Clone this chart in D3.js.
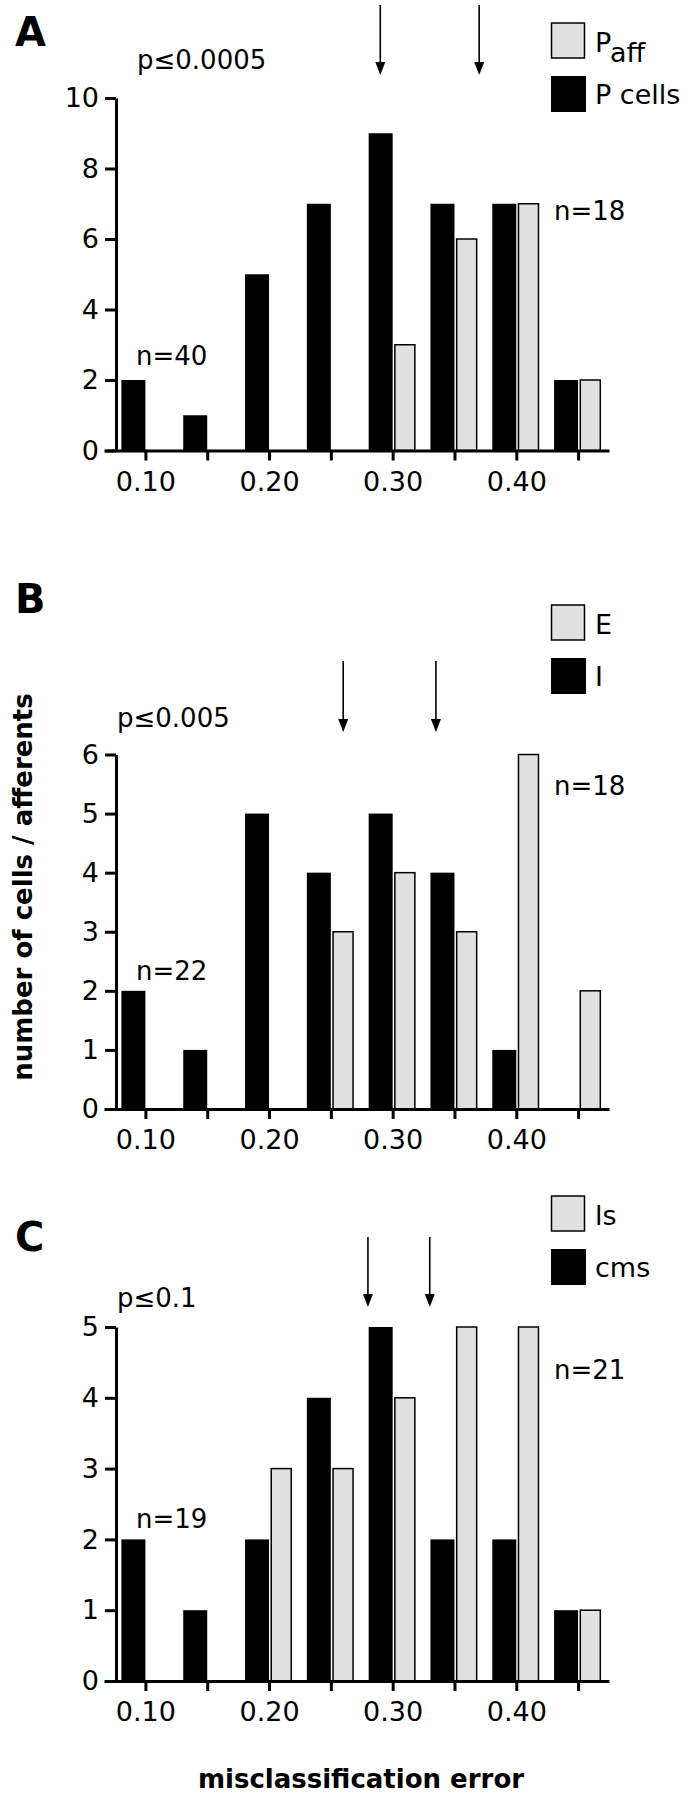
<!DOCTYPE html>
<html>
<head>
<meta charset="utf-8">
<script src="https://cdn.jsdelivr.net/npm/d3@7"></script>
<style>
body { margin: 0; background: #fff; }
svg text { font-family: "DejaVu Sans", sans-serif; fill: #000; }
</style>
</head>
<body>
<svg width="688" height="1800"></svg>
<script>
// histogram bins (misclassification error) and their labels
var bins = [0.10, 0.15, 0.20, 0.25, 0.30, 0.35, 0.40, 0.45];
var binLabels = ["0.10", "", "0.20", "", "0.30", "", "0.40", ""];

// panel A
var pCells = [2, 1, 5, 7, 9, 7, 7, 2];
var pAff   = [0, 0, 0, 0, 3, 6, 7, 2];
var arrowsA = [0.29, 0.37];
var yTicksA = [0, 2, 4, 6, 8, 10];

// panel B
var iCells = [2, 1, 5, 4, 5, 4, 1, 0];
var eCells = [0, 0, 0, 3, 4, 3, 6, 2];
var arrowsB = [0.26, 0.335];
var yTicksB = [0, 1, 2, 3, 4, 5, 6];

// panel C
var cmsCells = [2, 1, 2, 4, 5, 2, 2, 1];
var lsCells  = [0, 0, 3, 3, 4, 5, 5, 1];
var arrowsC = [0.28, 0.33];
var yTicksC = [0, 1, 2, 3, 4, 5];

var grayFill = "#e1e1e1";

var svg = d3.select("svg");

var x = d3.scaleLinear()
    .domain([0.0665, 0.475])
    .range([104, 609]);

var panels = [
  { letter: "A", letterY: 46, black: pCells, gray: pAff, yTicks: yTicksA,
    top: 98, base: 450.5, arrows: arrowsA, arrowTop: 5, arrowTip: 75,
    p: "p\u22640.0005", pX: 137, pY: 69,
    legY: 23, legend: ["P", "P cells"], sub: "aff",
    nLeft: "n=40", nLeftY: 365, nRight: "n=18", nRightY: 220 },
  { letter: "B", letterY: 613, black: iCells, gray: eCells, yTicks: yTicksB,
    top: 754.5, base: 1109, arrows: arrowsB, arrowTop: 661, arrowTip: 732,
    p: "p\u22640.005", pX: 117, pY: 727,
    legY: 605, legend: ["E", "I"],
    nLeft: "n=22", nLeftY: 980, nRight: "n=18", nRightY: 795 },
  { letter: "C", letterY: 1251, black: cmsCells, gray: lsCells, yTicks: yTicksC,
    top: 1327, base: 1681, arrows: arrowsC, arrowTop: 1237, arrowTip: 1307,
    p: "p\u22640.1", pX: 117, pY: 1307,
    legY: 1196, legend: ["ls", "cms"],
    nLeft: "n=19", nLeftY: 1528, nRight: "n=21", nRightY: 1379 }
];

panels.forEach(function(pn) {
  var g = svg.append("g");
  var ymax = pn.yTicks[pn.yTicks.length - 1];
  var y = d3.scaleLinear().domain([0, ymax]).range([pn.base, pn.top]);

  // bars
  var data = bins.map(function(b, i) {
    return { bin: b, black: pn.black[i], gray: pn.gray[i] };
  });

  g.selectAll(".blackbar")
    .data(data.filter(function(d) { return d.black > 0; }))
    .enter().append("rect")
    .attr("class", "blackbar")
    .attr("x", function(d) { return x(d.bin) - 24; })
    .attr("width", 24)
    .attr("y", function(d) { return y(d.black); })
    .attr("height", function(d) { return y(0) - y(d.black); })
    .attr("fill", "#000");

  g.selectAll(".graybar")
    .data(data.filter(function(d) { return d.gray > 0; }))
    .enter().append("rect")
    .attr("class", "graybar")
    .attr("x", function(d) { return x(d.bin) + 2.2; })
    .attr("width", 20)
    .attr("y", function(d) { return y(d.gray); })
    .attr("height", function(d) { return y(0) - y(d.gray); })
    .attr("fill", grayFill)
    .attr("stroke", "#000")
    .attr("stroke-width", 1.5);

  // axes
  var xAxis = d3.axisBottom(x)
    .tickValues(bins)
    .tickFormat(function(d, i) { return binLabels[i]; })
    .tickSizeInner(10)
    .tickSizeOuter(0)
    .tickPadding(11);

  var gx = g.append("g")
    .attr("transform", "translate(0," + pn.base + ")")
    .call(xAxis);

  var yAxis = d3.axisLeft(y)
    .tickValues(pn.yTicks)
    .tickFormat(d3.format("d"))
    .tickSizeInner(11)
    .tickSizeOuter(0)
    .tickPadding(6);

  var gy = g.append("g")
    .attr("transform", "translate(116,0)")
    .call(yAxis);

  [gx, gy].forEach(function(a) {
    a.select(".domain").attr("stroke-width", 3).attr("stroke", "#000");
    a.selectAll(".tick line").attr("stroke-width", 3).attr("stroke", "#000");
    a.selectAll(".tick text")
      .attr("font-size", 27)
      .attr("font-family", "DejaVu Sans, sans-serif")
      .attr("fill", "#000");
  });

  // arrows
  pn.arrows.forEach(function(a) {
    g.append("line")
      .attr("x1", x(a)).attr("x2", x(a))
      .attr("y1", pn.arrowTop).attr("y2", pn.arrowTip - 10)
      .attr("stroke", "#000").attr("stroke-width", 1.6);
    g.append("path")
      .attr("d", "M" + (x(a) - 5) + "," + (pn.arrowTip - 13) +
                 "L" + (x(a) + 5) + "," + (pn.arrowTip - 13) +
                 "L" + x(a) + "," + pn.arrowTip + "Z")
      .attr("fill", "#000");
  });

  // panel letter
  g.append("text")
    .attr("x", 15).attr("y", pn.letterY)
    .attr("font-size", 40).attr("font-weight", "bold")
    .text(pn.letter);

  // p value
  g.append("text")
    .attr("x", pn.pX).attr("y", pn.pY)
    .attr("font-size", 26)
    .text(pn.p);

  // n labels
  g.append("text")
    .attr("x", 136).attr("y", pn.nLeftY)
    .attr("font-size", 26)
    .text(pn.nLeft);
  g.append("text")
    .attr("x", 554).attr("y", pn.nRightY)
    .attr("font-size", 26)
    .text(pn.nRight);

  // legend
  g.append("rect")
    .attr("x", 551.5).attr("y", pn.legY)
    .attr("width", 33).attr("height", 35)
    .attr("fill", grayFill).attr("stroke", "#000").attr("stroke-width", 1.5);
  g.append("rect")
    .attr("x", 551).attr("y", pn.legY + 53)
    .attr("width", 35).attr("height", 36)
    .attr("fill", "#000");

  var t1 = g.append("text")
    .attr("x", 595).attr("y", pn.legY + 29)
    .attr("font-size", 27)
    .text(pn.legend[0]);
  if (pn.sub) {
    t1.append("tspan").attr("dy", 10).text(pn.sub);
  }
  g.append("text")
    .attr("x", 595).attr("y", pn.legY + 81)
    .attr("font-size", 27)
    .text(pn.legend[1]);
});

// shared axis titles
svg.append("text")
  .attr("transform", "translate(32,887) rotate(-90)")
  .attr("text-anchor", "middle")
  .attr("font-size", 26)
  .attr("font-weight", "bold")
  .text("number of cells / afferents");

svg.append("text")
  .attr("x", 361).attr("y", 1788)
  .attr("text-anchor", "middle")
  .attr("font-size", 26)
  .attr("font-weight", "bold")
  .text("misclassification error");
</script>
</body>
</html>
